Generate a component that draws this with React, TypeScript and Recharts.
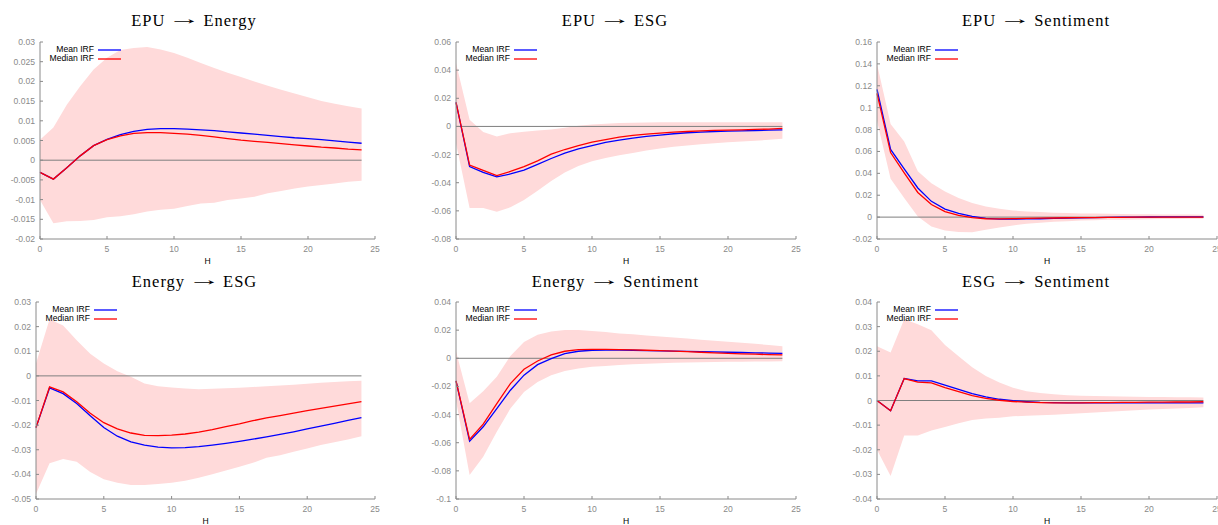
import React from 'react';
import { ComposedChart, Area, Line, XAxis, YAxis, ReferenceLine } from 'recharts';

const H = [0,1,2,3,4,5,6,7,8,9,10,11,12,13,14,15,16,17,18,19,20,21,22,23,24];
const xTicks = [0,5,10,15,20,25];
const seriesNames = ['Mean IRF', 'Median IRF'];
const titles = ['EPU \u2192 Energy', 'EPU \u2192 ESG', 'EPU \u2192 Sentiment', 'Energy \u2192 ESG', 'Energy \u2192 Sentiment', 'ESG \u2192 Sentiment'];

// EPU -> Energy
const mean1 = [-0.0031,-0.0048,-0.0019,0.0011,0.0037,0.0053,0.0065,0.0073,0.0078,0.0080,0.0080,0.0079,0.0077,0.0075,0.0072,0.0069,0.0066,0.0063,0.0060,0.0057,0.0055,0.0052,0.0049,0.0046,0.0043];
const median1 = [-0.0031,-0.0048,-0.0019,0.0011,0.0037,0.0052,0.0062,0.0068,0.0070,0.0070,0.0068,0.0066,0.0063,0.0059,0.0055,0.0051,0.0048,0.0045,0.0042,0.0039,0.0036,0.0033,0.0031,0.0028,0.0026];
const hi1 = [0.0052,0.0083,0.0141,0.0188,0.0230,0.0260,0.0280,0.0285,0.0287,0.0281,0.0272,0.0260,0.0247,0.0234,0.0222,0.0211,0.0200,0.0189,0.0179,0.0169,0.0160,0.0150,0.0143,0.0137,0.0131];
const lo1 = [-0.0101,-0.0160,-0.0155,-0.0154,-0.0152,-0.0145,-0.0142,-0.0137,-0.0130,-0.0126,-0.0123,-0.0116,-0.0110,-0.0108,-0.0101,-0.0097,-0.0093,-0.0084,-0.0078,-0.0072,-0.0067,-0.0063,-0.0059,-0.0055,-0.0052];
const yTicks1 = [-0.02,-0.015,-0.01,-0.005,0,0.005,0.01,0.015,0.02,0.025,0.03];
const yLabels1 = ['-0.02','-0.015','-0.01','-0.005','0','0.005','0.01','0.015','0.02','0.025','0.03'];

// EPU -> ESG
const mean2 = [0.0171,-0.0285,-0.0326,-0.0359,-0.0338,-0.0310,-0.0269,-0.0228,-0.0190,-0.0159,-0.0136,-0.0114,-0.0098,-0.0083,-0.0071,-0.0062,-0.0052,-0.0045,-0.0040,-0.0036,-0.0033,-0.0031,-0.0029,-0.0026,-0.0024];
const median2 = [0.0171,-0.0275,-0.0312,-0.0350,-0.0320,-0.0285,-0.0245,-0.0197,-0.0164,-0.0136,-0.0112,-0.0093,-0.0076,-0.0064,-0.0055,-0.0048,-0.0040,-0.0036,-0.0031,-0.0028,-0.0026,-0.0024,-0.0021,-0.0019,-0.0014];
const hi2 = [0.0450,0.0048,-0.0040,-0.0071,-0.0048,-0.0038,-0.0029,-0.0021,-0.0010,0.0005,0.0014,0.0019,0.0024,0.0026,0.0028,0.0029,0.0030,0.0030,0.0030,0.0030,0.0030,0.0030,0.0030,0.0030,0.0030];
const lo2 = [-0.0120,-0.0580,-0.0580,-0.0606,-0.0575,-0.0523,-0.0457,-0.0388,-0.0328,-0.0281,-0.0247,-0.0224,-0.0205,-0.0188,-0.0171,-0.0157,-0.0145,-0.0136,-0.0126,-0.0119,-0.0112,-0.0107,-0.0102,-0.0095,-0.0088];
const yTicks2 = [-0.08,-0.06,-0.04,-0.02,0,0.02,0.04,0.06];
const yLabels2 = ['-0.08','-0.06','-0.04','-0.02','0','0.02','0.04','0.06'];

// EPU -> Sentiment
const mean3 = [0.1168,0.0618,0.0440,0.0266,0.0144,0.0073,0.0034,0.0006,-0.0012,-0.0018,-0.0018,-0.0017,-0.0015,-0.0012,-0.0010,-0.0007,-0.0005,-0.0003,-0.0001,0.0000,0.0001,0.0002,0.0003,0.0003,0.0003];
const median3 = [0.1130,0.0590,0.0405,0.0225,0.0115,0.0050,0.0015,-0.0005,-0.0015,-0.0016,-0.0014,-0.0012,-0.0010,-0.0008,-0.0006,-0.0005,-0.0004,-0.0003,-0.0002,-0.0001,-0.0001,0.0000,0.0000,0.0000,0.0000];
const hi3 = [0.1400,0.0850,0.0690,0.0420,0.0310,0.0235,0.0174,0.0128,0.0098,0.0076,0.0061,0.0052,0.0046,0.0040,0.0037,0.0034,0.0032,0.0030,0.0028,0.0027,0.0026,0.0025,0.0024,0.0023,0.0022];
const lo3 = [0.0880,0.0350,0.0174,0.0006,-0.0086,-0.0122,-0.0135,-0.0138,-0.0116,-0.0095,-0.0076,-0.0061,-0.0052,-0.0043,-0.0037,-0.0031,-0.0028,-0.0025,-0.0023,-0.0021,-0.0019,-0.0018,-0.0017,-0.0016,-0.0015];
const yTicks3 = [-0.02,0,0.02,0.04,0.06,0.08,0.1,0.12,0.14,0.16];
const yLabels3 = ['-0.02','0','0.02','0.04','0.06','0.08','0.1','0.12','0.14','0.16'];

// Energy -> ESG
const mean4 = [-0.0210,-0.0049,-0.0072,-0.0112,-0.0162,-0.0210,-0.0245,-0.0268,-0.0281,-0.0289,-0.0292,-0.0291,-0.0287,-0.0281,-0.0274,-0.0266,-0.0257,-0.0248,-0.0238,-0.0227,-0.0215,-0.0204,-0.0193,-0.0181,-0.0170];
const median4 = [-0.0210,-0.0045,-0.0065,-0.0105,-0.0152,-0.0190,-0.0215,-0.0232,-0.0242,-0.0243,-0.0241,-0.0236,-0.0228,-0.0218,-0.0206,-0.0195,-0.0182,-0.0171,-0.0161,-0.0151,-0.0141,-0.0132,-0.0123,-0.0114,-0.0105];
const hi4 = [0.0050,0.0230,0.0205,0.0145,0.0090,0.0050,0.0019,-0.0004,-0.0031,-0.0042,-0.0047,-0.0051,-0.0054,-0.0052,-0.0050,-0.0048,-0.0045,-0.0042,-0.0039,-0.0036,-0.0032,-0.0028,-0.0025,-0.0022,-0.0020];
const lo4 = [-0.0480,-0.0355,-0.0338,-0.0349,-0.0390,-0.0420,-0.0434,-0.0443,-0.0443,-0.0439,-0.0434,-0.0426,-0.0414,-0.0399,-0.0384,-0.0369,-0.0353,-0.0332,-0.0322,-0.0308,-0.0295,-0.0281,-0.0270,-0.0258,-0.0245];
const yTicks4 = [-0.05,-0.04,-0.03,-0.02,-0.01,0,0.01,0.02,0.03];
const yLabels4 = ['-0.05','-0.04','-0.03','-0.02','-0.01','0','0.01','0.02','0.03'];

// Energy -> Sentiment
const mean5 = [-0.0160,-0.0589,-0.0487,-0.0357,-0.0227,-0.0120,-0.0045,-0.0002,0.0033,0.0050,0.0057,0.0059,0.0059,0.0057,0.0055,0.0053,0.0051,0.0049,0.0047,0.0045,0.0043,0.0041,0.0039,0.0037,0.0035];
const median5 = [-0.0160,-0.0577,-0.0468,-0.0322,-0.0180,-0.0078,-0.0019,0.0024,0.0050,0.0061,0.0064,0.0064,0.0062,0.0060,0.0057,0.0054,0.0051,0.0047,0.0043,0.0039,0.0035,0.0032,0.0029,0.0026,0.0024];
const hi5 = [0.0050,-0.0320,-0.0234,-0.0132,0.0017,0.0116,0.0168,0.0191,0.0201,0.0201,0.0194,0.0187,0.0177,0.0170,0.0162,0.0155,0.0148,0.0140,0.0132,0.0125,0.0117,0.0110,0.0103,0.0094,0.0085];
const lo5 = [-0.0300,-0.0830,-0.0700,-0.0522,-0.0357,-0.0239,-0.0168,-0.0120,-0.0090,-0.0073,-0.0061,-0.0054,-0.0047,-0.0042,-0.0038,-0.0035,-0.0032,-0.0030,-0.0028,-0.0026,-0.0025,-0.0024,-0.0023,-0.0022,-0.0021];
const yTicks5 = [-0.1,-0.08,-0.06,-0.04,-0.02,0,0.02,0.04];
const yLabels5 = ['-0.1','-0.08','-0.06','-0.04','-0.02','0','0.02','0.04'];

// ESG -> Sentiment
const mean6 = [0.0000,-0.0042,0.0089,0.0080,0.0080,0.0062,0.0045,0.0028,0.0015,0.0005,-0.0001,-0.0005,-0.0008,-0.0009,-0.0010,-0.0010,-0.0010,-0.0010,-0.0010,-0.0010,-0.0010,-0.0010,-0.0010,-0.0010,-0.0010];
const median6 = [0.0000,-0.0042,0.0089,0.0075,0.0072,0.0052,0.0036,0.0020,0.0009,0.0001,-0.0004,-0.0007,-0.0009,-0.0010,-0.0010,-0.0010,-0.0009,-0.0009,-0.0008,-0.0008,-0.0007,-0.0007,-0.0006,-0.0006,-0.0005];
const hi6 = [0.0220,0.0195,0.0330,0.0310,0.0285,0.0225,0.0180,0.0135,0.0100,0.0073,0.0052,0.0038,0.0030,0.0025,0.0021,0.0019,0.0018,0.0017,0.0016,0.0015,0.0014,0.0014,0.0013,0.0013,0.0012];
const lo6 = [-0.0200,-0.0307,-0.0142,-0.0142,-0.0122,-0.0108,-0.0092,-0.0079,-0.0073,-0.0070,-0.0064,-0.0062,-0.0060,-0.0058,-0.0055,-0.0052,-0.0049,-0.0046,-0.0043,-0.0040,-0.0037,-0.0035,-0.0032,-0.0030,-0.0027];
const yTicks6 = [-0.04,-0.03,-0.02,-0.01,0,0.01,0.02,0.03,0.04];
const yLabels6 = ['-0.04','-0.03','-0.02','-0.01','0','0.01','0.02','0.03','0.04'];

const AXIS = '#8a8a8a';
const SANS = '"Liberation Sans", Arial, sans-serif';
const TICK_FONT = { fontSize: 8.6, fontFamily: SANS, fill: '#8a8a8a' };

type PanelProps = {
  left: number; top: number; marginTop: number; yWidth: number; marginRight: number;
  title: string; titleCx: number; titleTop: number;
  mean: number[]; median: number[]; lo: number[]; hi: number[];
  yTicks: number[]; yLabels: string[];
};

const PLOT_H = 197;
const XAXIS_H = 30;

function Title({ text }: { text: string }) {
  const parts = text.split('\u2192');
  return (
    <>
      {parts[0].trim()}
      <span style={{ display: 'inline-block', width: 18, margin: '0 10px', textAlign: 'center', letterSpacing: 0,
        transform: 'translateY(-2px) scaleX(2)', lineHeight: '16.5px' }}>{'\u2192'}</span>
      {parts[1].trim()}
    </>
  );
}

function Panel(p: PanelProps) {
  const data = H.map((h, i) => ({ h, mean: p.mean[i], median: p.median[i], band: [p.lo[i], p.hi[i]] }));
  const height = p.marginTop + PLOT_H + XAXIS_H;
  const fmt = (v: number) => {
    const idx = p.yTicks.findIndex((t) => Math.abs(t - v) < 1e-9);
    return idx >= 0 ? p.yLabels[idx] : String(v);
  };
  const yMin = p.yTicks[0];
  const yMax = p.yTicks[p.yTicks.length - 1];
  return (
    <>
      <div style={{ position: 'absolute', left: p.left, top: p.top, width: 406, height }}>
        <ComposedChart width={406} height={height} data={data}
          margin={{ top: p.marginTop, right: p.marginRight, bottom: 0, left: 0 }}>
          <XAxis dataKey="h" type="number" domain={[0, 25]} ticks={xTicks} interval={0}
            stroke={AXIS} axisLine={{ stroke: AXIS }} tickLine={{ stroke: AXIS }}
            tickSize={-3} tickMargin={10} tick={TICK_FONT} height={XAXIS_H}
            label={{ value: 'H', position: 'insideBottom', offset: 5.5, fill: '#000', stroke: 'none', style: { fontSize: 8.6, fontFamily: SANS, fill: '#000', stroke: 'none' } }} />
          <YAxis type="number" domain={[yMin, yMax]} ticks={p.yTicks} interval={0} width={p.yWidth}
            stroke={AXIS} axisLine={{ stroke: AXIS }} tickLine={{ stroke: AXIS }}
            tickSize={-3} tickMargin={8} tick={TICK_FONT} tickFormatter={fmt} allowDataOverflow />
          <Area dataKey="band" type="linear" stroke="none" fill="#ffdada" fillOpacity={1} isAnimationActive={false} activeDot={false} />
          <ReferenceLine segment={[{ x: 0, y: 0 }, { x: 24, y: 0 }]} stroke="#7f7f7f" strokeWidth={1} />
          <Line dataKey="mean" name={seriesNames[0]} type="linear" stroke="#0000ff" strokeWidth={1.3} dot={false} activeDot={false} isAnimationActive={false} />
          <Line dataKey="median" name={seriesNames[1]} type="linear" stroke="#ff0000" strokeWidth={1.3} dot={false} activeDot={false} isAnimationActive={false} />
        </ComposedChart>
      </div>
      <svg style={{ position: 'absolute', left: p.left + p.yWidth, top: p.top + p.marginTop, overflow: 'visible' }} width={90} height={24}>
        <text x={54} y={10} textAnchor="end" fontSize={8.6} fontFamily={SANS} fill="#000">{seriesNames[0]}</text>
        <line x1={58} x2={81} y1={8} y2={8} stroke="#0000ff" strokeWidth={1.3} />
        <text x={54} y={19.3} textAnchor="end" fontSize={8.6} fontFamily={SANS} fill="#000">{seriesNames[1]}</text>
        <line x1={58} x2={81} y1={17} y2={17} stroke="#ff0000" strokeWidth={1.3} />
      </svg>
      <div style={{ position: 'absolute', left: p.titleCx, top: p.titleTop, transform: 'translateX(-50%)', whiteSpace: 'nowrap',
        fontFamily: '"Liberation Serif", "Times New Roman", serif', fontSize: 16.5, lineHeight: '16.5px', letterSpacing: 1, color: '#000' }}>
        <Title text={p.title} />
      </div>
    </>
  );
}

export default function App() {
  return (
    <div style={{ position: 'absolute', left: 0, top: 0, width: 1218, height: 525, overflow: 'hidden', background: '#fff' }}>
      <Panel left={0} top={0} marginTop={42} yWidth={40} marginRight={31} title={titles[0]} titleCx={194} titleTop={12.9}
        mean={mean1} median={median1} lo={lo1} hi={hi1} yTicks={yTicks1} yLabels={yLabels1} />
      <Panel left={406} top={0} marginTop={42} yWidth={50} marginRight={16} title={titles[1]} titleCx={615} titleTop={12.9}
        mean={mean2} median={median2} lo={lo2} hi={hi2} yTicks={yTicks2} yLabels={yLabels2} />
      <Panel left={812} top={0} marginTop={42} yWidth={65} marginRight={1} title={titles[2]} titleCx={1036} titleTop={12.9}
        mean={mean3} median={median3} lo={lo3} hi={hi3} yTicks={yTicks3} yLabels={yLabels3} />
      <Panel left={0} top={262} marginTop={40} yWidth={36} marginRight={31} title={titles[3]} titleCx={194.5} titleTop={274.2}
        mean={mean4} median={median4} lo={lo4} hi={hi4} yTicks={yTicks4} yLabels={yLabels4} />
      <Panel left={406} top={262} marginTop={40} yWidth={50} marginRight={16} title={titles[4]} titleCx={615.5} titleTop={274.2}
        mean={mean5} median={median5} lo={lo5} hi={hi5} yTicks={yTicks5} yLabels={yLabels5} />
      <Panel left={812} top={262} marginTop={40} yWidth={65} marginRight={1} title={titles[5]} titleCx={1036} titleTop={274.2}
        mean={mean6} median={median6} lo={lo6} hi={hi6} yTicks={yTicks6} yLabels={yLabels6} />
    </div>
  );
}
